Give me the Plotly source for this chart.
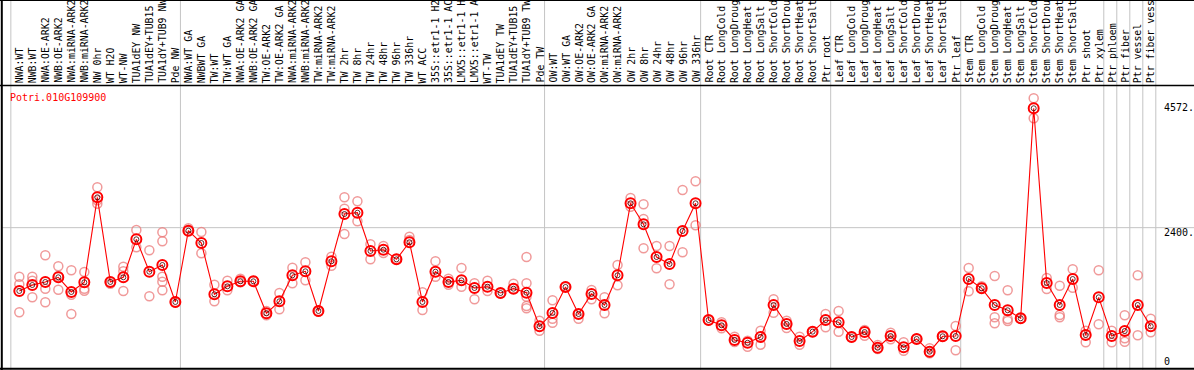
import plotly.graph_objects as go

# ---------------- data ----------------
group1 = ["NWA:WT", "NWB:WT", "NWA:OE-ARK2", "NWB:OE-ARK2", "NWA:miRNA-ARK2", "NWB:miRNA-ARK2",
          "NW 0hr", "WT H2O", "WT-NW", "TUA1dEY NW", "TUA1dEY+TUB15", "TUA1dY+TUB9 NW", "Pde NW"]
group2 = ["NWA:WT GA", "NWBWT GA", "TW:WT", "TW:WT GA", "NWA:OE-ARK2 GA", "NWB:OE-ARK2 GA",
          "TW:OE-ARK2", "TW:OE-ARK2 GA", "NWA:miRNA-ARK2", "NWB:miRNA-ARK2", "TW:miRNA-ARK2",
          "TW:miRNA-ARK2", "TW 2hr", "TW 8hr", "TW 24hr", "TW 48hr", "TW 96hr", "TW 336hr", "WT ACC",
          "35S::etr1-1 H2", "35S::etr1-1 AC", "LMX5::etr1-1 H", "LMX5::etr1-1 A", "WT-TW",
          "TUA1dEY TW", "TUA1dEY+TUB15", "TUA1dY+TUB9 TW", "Pde TW"]
group3 = ["OW:WT", "OW:WT GA", "OW:OE-ARK2", "OW:OE-ARK2 GA", "OW:miRNA-ARK2", "OW:miRNA-ARK2",
          "OW 2hr", "OW 8hr", "OW 24hr", "OW 48hr", "OW 96hr", "OW 336hr"]
group4 = ["Root CTR", "Root LongCold", "Root LongDroug", "Root LongHeat", "Root LongSalt",
          "Root ShortCold", "Root ShortDrou", "Root ShortHeat", "Root ShortSalt", "Ptr root"]
group5 = ["Leaf CTR", "Leaf LongCold", "Leaf LongDroug", "Leaf LongHeat", "Leaf LongSalt",
          "Leaf ShortCold", "Leaf ShortDrou", "Leaf ShortHeat", "Leaf ShortSalt", "Ptr leaf"]
group6 = ["Stem CTR", "Stem LongCold", "Stem LongDroug", "Stem LongHeat", "Stem LongSalt",
          "Stem ShortCold", "Stem ShortDrou", "Stem ShortHeat", "Stem ShortSalt", "Ptr shoot", "Ptr xylem"]
group7 = ["Ptr phloem"]
group8 = ["Ptr fiber"]
group9 = ["Ptr vessel"]
group10 = ["Ptr fiber vess"]
groups = [group1, group2, group3, group4, group5, group6, group7, group8, group9, group10]
categories = [c for g in groups for c in g]

gene = "Potri.010G109900"

means = [1248, 1357, 1412, 1497, 1230, 1406, 2952, 1412, 1497, 2188, 1599, 1721, 1048,
         2345, 2121, 1188, 1333, 1424, 1424, 842, 1060, 1533, 1606, 884, 1788, 2648, 2672,
         1976, 1999, 1824, 2134, 1048, 1599, 1412, 1442, 1302, 1326, 1211, 1290, 1217, 606,
         848, 1321, 829, 1195, 993, 1533, 2843, 2461, 1866, 1739, 2339, 2843,
         720, 624, 357, 307, 411, 993, 648, 338, 508, 720,
         678, 411, 502, 216, 429, 224, 375, 144, 424, 429,
         1466, 1297, 993, 897, 751, 4572, 1393, 993, 1466, 447, 1133,
         429, 520, 993, 606]

replicates = [
    [1508, 1370, 860], [1508, 1435, 1133], [1897, 1290, 1042], [1697, 1272, 1520],
    [1624, 1181, 829], [1593, 1290, 1253], [3134, 2900, 2836], [1412, 1380],
    [1690, 1606, 1248], [2357, 2043], [1988, 1151], [2316, 2152, 1508, 1417, 1261],
    [1048, 1040],
    [2388, 2345], [2321, 1934], [1362, 1060], [1435, 1261], [1472, 1406], [1424, 1430],
    [884, 806], [1211, 915], [1672, 1388], [1770, 1442], [884, 870], [1872, 1708],
    [2952, 2745, 2285], [2879, 2516], [2097, 1824], [2066, 1939], [1824, 1830],
    [2236, 2176], [1224, 902], [1788, 1508], [1472, 1362], [1666, 1326], [1388, 1097],
    [1435, 1248], [1211, 1205], [1381, 1290], [1866, 1388, 1144, 975, 933], [708, 526],
    [1079, 744, 671], [1321, 1330], [744, 829], [1266, 1097], [1133, 842], [1721, 1352],
    [2940, 2781], [2825, 2558, 2025], [2066, 1661], [2066, 1370], [3085, 1952], [3243, 2443],
    [720, 715], [678, 569], [417, 320], [344, 235], [526, 271], [1097, 853], [708, 575],
    [417, 271], [508, 500], [829, 588],
    [884, 508], [411, 405], [538, 435], [266, 193], [489, 369], [315, 162], [375, 380],
    [206, 115], [424, 420], [611, 169],
    [1666, 1242], [1333, 1297], [1521, 769, 660], [1261, 738, 702], [751, 745], [4753, 4389],
    [1484, 1284], [1344, 811, 769], [1643, 1308], [526, 315], [1624, 642],
    [526, 315], [806, 387, 326], [1533, 442], [744, 497],
]

ytick_vals = [0, 2400, 4572]
ytick_text = ["0", "2400.", "4572."]

# ---------------- figure ----------------
W, H = 1194, 370
FONT = "DejaVu Sans Mono"

xs = list(range(len(categories)))
rep_x = [i for i, r in enumerate(replicates) for _ in r]
rep_y = [v for r in replicates for v in r]

fig = go.Figure()
fig.add_trace(go.Scatter(
    x=rep_x, y=rep_y, mode="markers",
    marker=dict(symbol="circle-open", size=9, color="rgba(235,120,120,0.75)", line=dict(width=1.5)),
    hoverinfo="skip", showlegend=False, cliponaxis=False))
fig.add_trace(go.Scatter(
    x=xs, y=means, mode="lines",
    line=dict(color="#ff0000", width=1.1), showlegend=False))
fig.add_trace(go.Scatter(
    x=xs, y=means, mode="markers",
    marker=dict(symbol="circle-open", size=10, color="#ff0000", line=dict(width=2)),
    showlegend=False))
fig.add_trace(go.Scatter(
    x=xs, y=means, mode="markers",
    marker=dict(symbol="circle-open", size=5, color="rgba(60,0,0,0.8)", line=dict(width=1)),
    showlegend=False))

# pixel mapping: x_px = X0 + DX*i ; y value = (Y0 - y_px) * DY
X0, DX = 19.3, 13.005
Y0, DY = 359.6, 18.19
x_range = [(0 - X0) / DX, (W - X0) / DX]
y_range = [(Y0 - H) * DY, (Y0 - 0) * DY]

shapes = []
grid = "#c4c4c4"
# group separators (vertical grid)
bounds = [-0.65]
n = 0
for g in groups:
    n += len(g)
    bounds.append(n - 1 + 0.39)
for b in bounds:
    shapes.append(dict(type="line", xref="x", yref="paper", x0=b, x1=b, y0=0, y1=1,
                       line=dict(color=grid, width=1), layer="below"))
# horizontal grid at middle tick
shapes.append(dict(type="line", xref="paper", yref="y", x0=2 / W, x1=1, y0=ytick_vals[1], y1=ytick_vals[1],
                   line=dict(color=grid, width=1), layer="below"))


def py(p):
    return 1 - p / H


# frame lines
shapes += [
    dict(type="line", xref="paper", yref="paper", x0=0, x1=1, y0=py(0.5), y1=py(0.5),
         line=dict(color="black", width=1)),
    dict(type="line", xref="paper", yref="paper", x0=0, x1=1, y0=py(85.5), y1=py(85.5),
         line=dict(color="black", width=1.5)),
    dict(type="line", xref="paper", yref="paper", x0=0, x1=1, y0=py(368.8), y1=py(368.8),
         line=dict(color="black", width=2)),
    dict(type="line", xref="paper", yref="paper", x0=1.8 / W, x1=1.8 / W, y0=0, y1=1,
         line=dict(color="black", width=2)),
]

annotations = []
for i, c in enumerate(categories):
    annotations.append(dict(x=i, xref="x", y=py(84), yref="paper", text=c, textangle=-90,
                            xanchor="center", yanchor="bottom", showarrow=False, borderpad=0,
                            font=dict(family=FONT, size=9.9, color="black")))
annotations.append(dict(x=9 / W, xref="paper", y=py(97), yref="paper", text=gene,
                        xanchor="left", yanchor="middle", showarrow=False, borderpad=0,
                        font=dict(family=FONT, size=10, color="#ff0000")))
shifts = [-2, -5, 1]
for v, t, s in zip(ytick_vals, ytick_text, shifts):
    annotations.append(dict(x=1163 / W, xref="paper", y=v, yref="y", yshift=s, text=t,
                            xanchor="left", yanchor="middle", showarrow=False, borderpad=0,
                            font=dict(family=FONT, size=10, color="black")))

fig.update_layout(
    width=W, height=H,
    margin=dict(l=0, r=0, t=0, b=0, pad=0),
    paper_bgcolor="white", plot_bgcolor="white",
    xaxis=dict(range=x_range, visible=False, fixedrange=True),
    yaxis=dict(range=y_range, visible=False, fixedrange=True),
    shapes=shapes, annotations=annotations,
    showlegend=False,
)

fig.write_html("out.html", config={"displayModeBar": False},
               post_script="document.body.style.margin='0';document.body.style.overflow='hidden';")
